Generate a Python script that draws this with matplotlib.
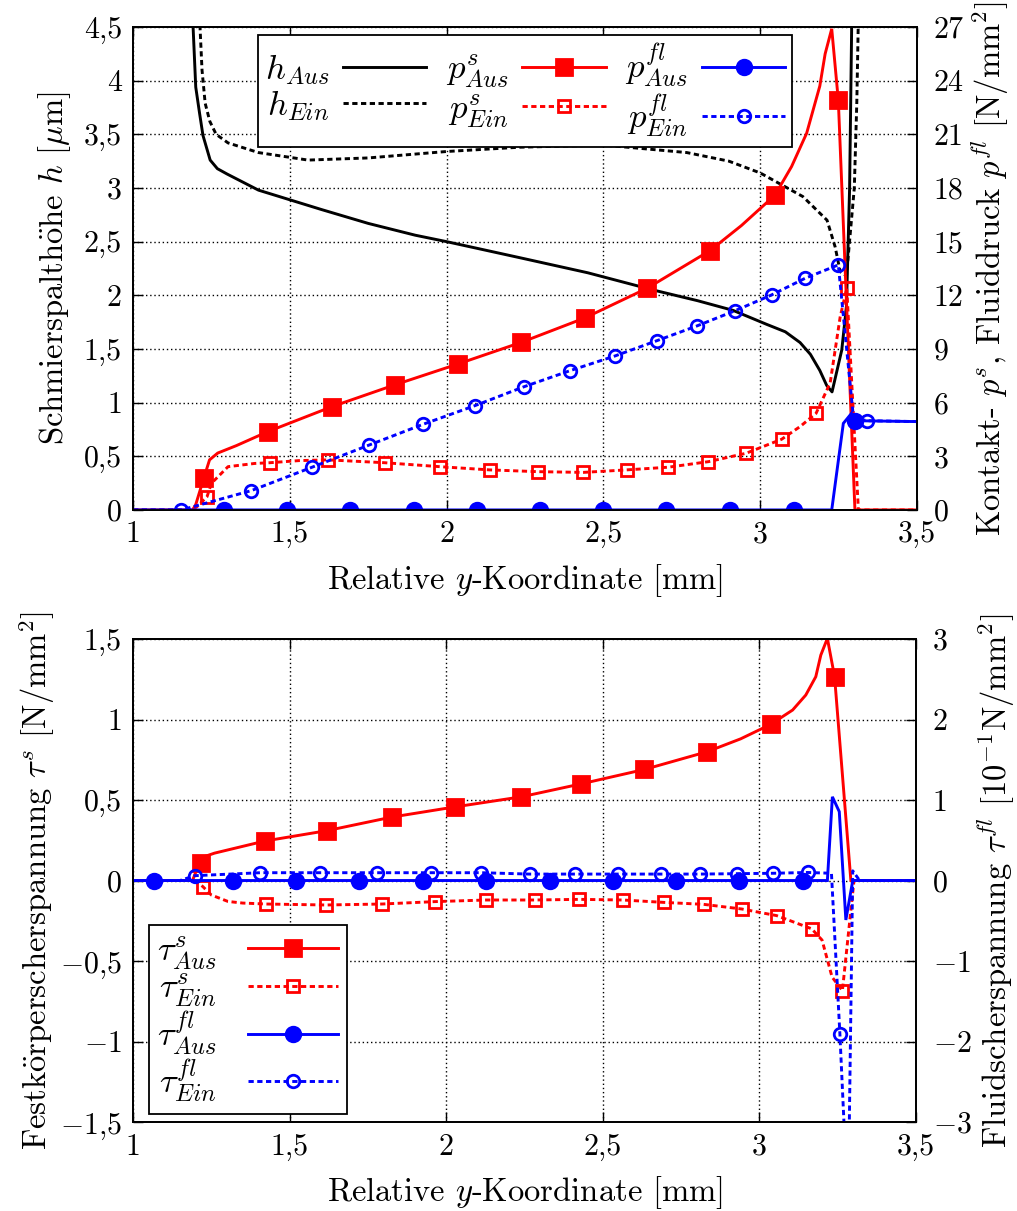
import matplotlib
matplotlib.use("Agg")
import matplotlib.pyplot as plt

plt.rcParams['font.family'] = ['cmr10', 'DejaVu Serif']
plt.rcParams['mathtext.fontset'] = 'cm'
plt.rcParams['axes.unicode_minus'] = False
plt.rcParams['axes.formatter.use_mathtext'] = True

# ---------------- upper panel: film height and pressures ----------------
x_ticks = [1, 1.5, 2, 2.5, 3, 3.5]
x_ticklabels = ['1', '1,5', '2', '2,5', '3', '3,5']
h_ticks = [0, 0.5, 1, 1.5, 2, 2.5, 3, 3.5, 4, 4.5]
h_ticklabels = ['0', '0,5', '1', '1,5', '2', '2,5', '3', '3,5', '4', '4,5']
p_ticks = [0, 3, 6, 9, 12, 15, 18, 21, 24, 27]
p_ticklabels = [str(v) for v in p_ticks]

# film height, outlet (Aus) and inlet (Ein) stroke  [um]
h_aus_x = [1.19, 1.20, 1.212, 1.223, 1.246, 1.269, 1.30, 1.40, 1.50, 1.60, 1.75, 1.90,
           2.00, 2.234, 2.45, 2.658, 2.80, 2.913, 3.02, 3.08, 3.127, 3.16, 3.19, 3.212,
           3.229, 3.26, 3.275, 3.285, 3.292]
h_aus_y = [4.6, 3.94, 3.70, 3.49, 3.26, 3.18, 3.13, 2.98, 2.89, 2.80, 2.67, 2.56,
           2.50, 2.35, 2.21, 2.05, 1.95, 1.86, 1.73, 1.66, 1.56, 1.45, 1.30, 1.16,
           1.10, 1.49, 1.90, 3.0, 4.6]
h_ein_x = [1.212, 1.22, 1.23, 1.245, 1.265, 1.303, 1.40, 1.558, 1.75, 2.0, 2.234, 2.5,
           2.766, 2.90, 3.0, 3.136, 3.213, 3.239, 3.255, 3.275, 3.30, 3.308, 3.313]
h_ein_y = [4.6, 4.1, 3.79, 3.62, 3.50, 3.42, 3.33, 3.26, 3.28, 3.34, 3.38, 3.40,
           3.33, 3.25, 3.14, 2.92, 2.70, 2.45, 2.22, 2.18, 3.0, 3.8, 4.6]

# contact pressure p^s  [N/mm^2]
ps_aus_x = [1.0, 1.19, 1.20, 1.226, 1.244, 1.27, 1.33, 1.43, 1.635, 1.834, 2.036, 2.238,
            2.44, 2.64, 2.84, 2.94, 3.047, 3.10, 3.148, 3.19, 3.207, 3.228, 3.249,
            3.302, 3.5]
ps_aus_y = [0, 0, 0.3, 1.8, 2.8, 3.18, 3.6, 4.38, 5.78, 6.99, 8.16, 9.37,
            10.73, 12.4, 14.5, 15.9, 17.6, 19.2, 21.06, 23.7, 25.5, 26.9, 22.9,
            0, 0]
ps_aus_marks = [3, 7, 8, 9, 10, 11, 12, 13, 14, 16, 22]

ps_ein_x = [1.0, 1.19, 1.205, 1.236, 1.25, 1.303, 1.388, 1.436, 1.53, 1.622, 1.803, 1.978,
            2.137, 2.292, 2.436, 2.574, 2.707, 2.835, 2.955, 3.068, 3.127, 3.178, 3.223,
            3.255, 3.276, 3.313, 3.5]
ps_ein_y = [0, 0, 0.2, 0.74, 1.49, 2.42, 2.6, 2.64, 2.76, 2.80, 2.64, 2.42,
            2.24, 2.14, 2.10, 2.24, 2.39, 2.70, 3.17, 3.95, 4.66, 5.4, 7.1,
            10.8, 12.4, 0, 0]
ps_ein_marks = [3, 7, 9, 10, 11, 12, 13, 14, 15, 16, 17, 18, 19, 21, 24]

# fluid pressure p^fl  [N/mm^2]
pfl_aus_x = [1.0, 1.289, 1.49, 1.693, 1.895, 2.097, 2.298, 2.5, 2.70, 2.904, 3.108,
             3.228, 3.265, 3.291, 3.302, 3.5]
pfl_aus_y = [0, 0, 0, 0, 0, 0, 0, 0, 0, 0, 0,
             0, 4.84, 5.4, 4.99, 4.94]
pfl_aus_marks = [1, 2, 3, 4, 5, 6, 7, 8, 9, 10, 14]

pfl_ein_x = [1.0, 1.154, 1.377, 1.571, 1.753, 1.925, 2.09, 2.247, 2.394, 2.537, 2.67,
             2.797, 2.92, 3.036, 3.143, 3.249, 3.297, 3.339, 3.5]
pfl_ein_y = [0, 0, 1.08, 2.39, 3.63, 4.79, 5.83, 6.89, 7.79, 8.61, 9.46,
             10.28, 11.14, 12.02, 12.95, 13.7, 5.2, 4.99, 4.94]
pfl_ein_marks = [1, 2, 3, 4, 5, 6, 7, 8, 9, 10, 11, 12, 13, 14, 15, 17]

# ---------------- lower panel: shear stresses ----------------
ts_ticks = [-1.5, -1, -0.5, 0, 0.5, 1, 1.5]
ts_ticklabels = ['$-$1,5', '$-$1', '$-$0,5', '0', '0,5', '1', '1,5']
tfl_ticks = [-3, -2, -1, 0, 1, 2, 3]
tfl_ticklabels = ['$-$3', '$-$2', '$-$1', '0', '1', '2', '3']

# solid shear stress tau^s  [N/mm^2]
ts_aus_x = [1.0, 1.19, 1.20, 1.216, 1.23, 1.26, 1.42, 1.62, 1.826, 2.027, 2.24, 2.43,
            2.633, 2.833, 2.94, 3.036, 3.106, 3.148, 3.18, 3.196, 3.217, 3.24, 3.292, 3.5]
ts_aus_y = [0, 0, 0.05, 0.107, 0.15, 0.17, 0.245, 0.31, 0.394, 0.457, 0.52, 0.60,
            0.69, 0.80, 0.88, 0.97, 1.059, 1.152, 1.266, 1.40, 1.504, 1.266, 0, 0]
ts_aus_marks = [3, 6, 7, 8, 9, 10, 11, 12, 13, 15, 21]

ts_ein_x = [1.0, 1.19, 1.205, 1.223, 1.25, 1.303, 1.35, 1.425, 1.616, 1.795, 1.965, 2.128,
            2.282, 2.425, 2.564, 2.696, 2.822, 2.944, 3.055, 3.167, 3.20, 3.232, 3.265,
            3.302, 3.5]
ts_ein_y = [0, 0, -0.01, -0.038, -0.09, -0.13, -0.14, -0.146, -0.152, -0.146, -0.131, -0.121,
            -0.121, -0.117, -0.121, -0.136, -0.148, -0.177, -0.218, -0.30, -0.37, -0.60, -0.684,
            0, 0]
ts_ein_marks = [3, 7, 8, 9, 10, 11, 12, 13, 14, 15, 16, 17, 18, 19, 22]

# fluid shear stress tau^fl  [1e-1 N/mm^2]
tfl_aus_x = [1.0, 1.067, 1.319, 1.52, 1.723, 1.925, 2.127, 2.33, 2.532, 2.734, 2.936, 3.138,
             3.217, 3.233, 3.255, 3.276, 3.298, 3.5]
tfl_aus_y = [0, 0, 0, 0, 0, 0, 0, 0, 0, 0, 0, 0,
             0, 1.04, 0.855, -0.49, 0, 0]
tfl_aus_marks = [1, 2, 3, 4, 5, 6, 7, 8, 9, 10, 11]

tfl_ein_x = [1.0, 1.15, 1.197, 1.407, 1.596, 1.78, 1.952, 2.112, 2.266, 2.412, 2.55, 2.686,
             2.811, 2.93, 3.044, 3.154, 3.23, 3.257, 3.277, 3.285, 3.298, 3.32, 3.5]
tfl_ein_y = [0, 0, 0.06, 0.097, 0.097, 0.097, 0.097, 0.097, 0.08, 0.08, 0.08, 0.08,
             0.08, 0.085, 0.09, 0.10, 0.09, -1.91, -3.6, -3.6, 0.12, 0.0, 0.0]
tfl_ein_marks = [2, 3, 4, 5, 6, 7, 8, 9, 10, 11, 12, 13, 14, 15, 17]

RED = '#ff0000'
BLUE = '#0000ff'
LW = 2.1
DASH = (1.8, 1.2)
TICK_FS = 21.5
LABEL_FS = 23.5
LEG_FS = 25

fig = plt.figure(figsize=(10.17, 12.11), dpi=100)
ax1 = fig.add_axes([0.1308, 0.5789, 0.7709, 0.3988])
ax3 = fig.add_axes([0.1308, 0.0735, 0.7699, 0.3988])


def style_axes(ax, axr, yl_ticks, yl_labels, yr_ticks, yr_labels):
    ax.set_xlim(1, 3.5)
    ax.set_xticks(x_ticks)
    ax.set_xticklabels(x_ticklabels)
    ax.set_ylim(yl_ticks[0], yl_ticks[-1])
    ax.set_yticks(yl_ticks)
    ax.set_yticklabels(yl_labels)
    axr.set_ylim(yr_ticks[0], yr_ticks[-1])
    axr.set_yticks(yr_ticks)
    axr.set_yticklabels(yr_labels)
    ax.grid(True, linestyle=(0, (1, 2.0)), color='black', linewidth=1.0)
    ax.tick_params(axis='both', direction='in', length=7, width=1, top=True,
                   labelsize=TICK_FS, pad=8)
    axr.tick_params(axis='y', direction='in', length=7, width=1,
                    labelsize=TICK_FS, pad=12)
    for a in (ax, axr):
        for s in a.spines.values():
            s.set_linewidth(1.3)


def curve(ax, x, y, color, dashed, marker, filled, marks, ms):
    kw = dict(color=color, linewidth=LW, marker=marker, markevery=marks,
              markersize=ms, markeredgewidth=2.0, solid_joinstyle='miter')
    if filled:
        kw.update(markerfacecolor=color, markeredgecolor=color)
    else:
        kw.update(markerfacecolor='none', markeredgecolor=color)
    line, = ax.plot(x, y, **kw)
    if dashed:
        line.set_dashes(DASH)
    return line


# upper panel
ax2 = ax1.twinx()
style_axes(ax1, ax2, h_ticks, h_ticklabels, p_ticks, p_ticklabels)
l_ha, = ax1.plot(h_aus_x, h_aus_y, color='black', linewidth=LW)
l_he, = ax1.plot(h_ein_x, h_ein_y, color='black', linewidth=LW, dashes=DASH)
l_pa = curve(ax2, ps_aus_x, ps_aus_y, RED, False, 's', True, ps_aus_marks, 11.5)
l_pe = curve(ax2, ps_ein_x, ps_ein_y, RED, True, 's', False, ps_ein_marks, 9)
l_fa = curve(ax2, pfl_aus_x, pfl_aus_y, BLUE, False, 'o', True, pfl_aus_marks, 10.5)
l_fe = curve(ax2, pfl_ein_x, pfl_ein_y, BLUE, True, 'o', False, pfl_ein_marks, 9)

ax1.set_xlabel('Relative $y$-Koordinate [mm]', fontsize=LABEL_FS, labelpad=10)
ax1.set_ylabel('Schmierspalth$\\ddot{\\mathrm{o}}$he $h$ [$\\mu$m]', fontsize=LABEL_FS, labelpad=8)
ax2.set_ylabel('Kontakt- $p^s$, Fluiddruck $p^{fl}$ [N/mm$^2$]', fontsize=LABEL_FS, labelpad=4)

leg1 = ax2.legend([l_ha, l_he, l_pa, l_pe, l_fa, l_fe],
                  ['$h_{Aus}$', '$h_{Ein}$', '$p^s_{Aus}$', '$p^s_{Ein}$',
                   '$p^{fl}_{Aus}$', '$p^{fl}_{Ein}$'],
                  ncol=3, loc='upper center', bbox_to_anchor=(0.5, 0.983),
                  markerfirst=False, numpoints=1, handlelength=2.4,
                  fontsize=LEG_FS, fancybox=False, framealpha=1,
                  edgecolor='black', borderpad=0.2, labelspacing=0.05,
                  columnspacing=0.55, handletextpad=0.4, borderaxespad=0)
leg1.get_frame().set_linewidth(1.3)

# lower panel
ax4 = ax3.twinx()
style_axes(ax3, ax4, ts_ticks, ts_ticklabels, tfl_ticks, tfl_ticklabels)
t_sa = curve(ax3, ts_aus_x, ts_aus_y, RED, False, 's', True, ts_aus_marks, 11.5)
t_se = curve(ax3, ts_ein_x, ts_ein_y, RED, True, 's', False, ts_ein_marks, 9)
t_fa = curve(ax4, tfl_aus_x, tfl_aus_y, BLUE, False, 'o', True, tfl_aus_marks, 10.5)
t_fe = curve(ax4, tfl_ein_x, tfl_ein_y, BLUE, True, 'o', False, tfl_ein_marks, 9)

ax3.set_xlabel('Relative $y$-Koordinate [mm]', fontsize=LABEL_FS, labelpad=10)
ax3.set_ylabel('Festk$\\ddot{\\mathrm{o}}$rperscherspannung $\\tau^s$ [N/mm$^2$]',
               fontsize=LABEL_FS, labelpad=2)
ax4.set_ylabel('Fluidscherspannung $\\tau^{fl}$ [10$^{-1}$N/mm$^2$]',
               fontsize=LABEL_FS, labelpad=3)

leg2 = ax4.legend([t_sa, t_se, t_fa, t_fe],
                  ['$\\tau^s_{Aus}$', '$\\tau^s_{Ein}$', '$\\tau^{fl}_{Aus}$',
                   '$\\tau^{fl}_{Ein}$'],
                  loc='lower left', bbox_to_anchor=(0.02, 0.017),
                  markerfirst=False, numpoints=1, handlelength=2.6,
                  fontsize=LEG_FS, fancybox=False, framealpha=1,
                  edgecolor='black', borderpad=0.25, labelspacing=0.0,
                  handletextpad=0.9, borderaxespad=0)
leg2.get_frame().set_linewidth(1.3)

fig.savefig('out.png', dpi=100)
